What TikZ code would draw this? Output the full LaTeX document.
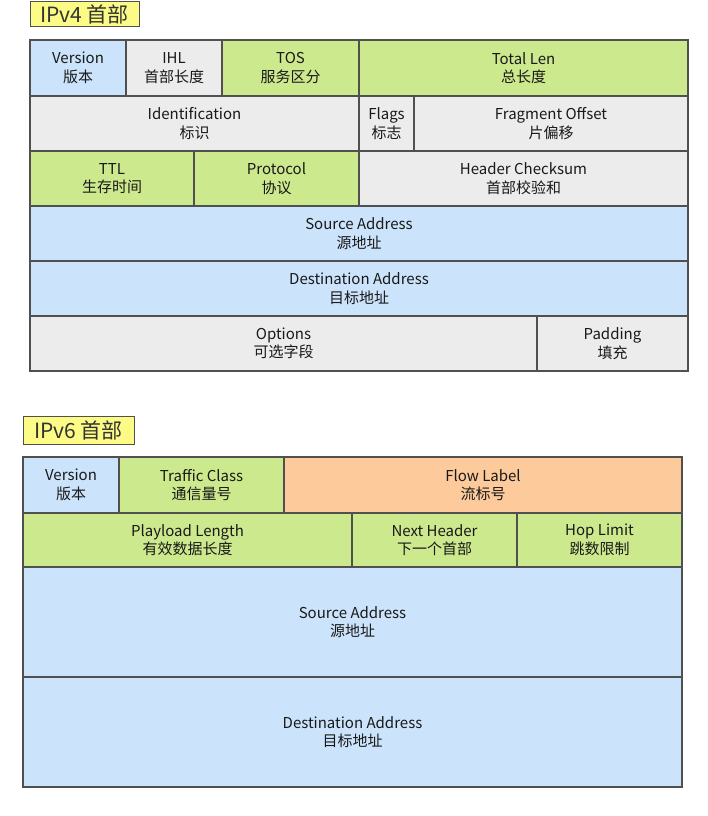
\documentclass[tikz,border=0pt]{standalone}
\usepackage{fontspec}
\setmainfont{Noto Sans CJK SC}
\usetikzlibrary{positioning}
\definecolor{fblue}{HTML}{CCE4FB}
\definecolor{fgrey}{HTML}{ECECEC}
\definecolor{fgreen}{HTML}{CDE98D}
\definecolor{forange}{HTML}{FDCB9B}
\definecolor{fyellow}{HTML}{FBFB85}
\definecolor{fline}{HTML}{505050}
\begin{document}
\begin{tikzpicture}[x=1pt, y=-1pt,
            campo/.style={rectangle, draw=fline, line width=1.1pt, anchor=north west, inner sep=0pt, outer sep=0pt, align=center, font=\fontsize{15}{18.5}\selectfont, text=black!90},
            titulo/.style={rectangle, draw=fline, line width=1pt, fill=fyellow, anchor=north west, inner sep=0pt, outer sep=0pt, font=\fontsize{21}{23}\selectfont, text=black!80}
        ]
            \useasboundingbox (0,0) rectangle (708,816);

            % Titulo IPv4
            \node[titulo, minimum width=109pt, minimum height=25pt] (t4) at (30,2) {IPv4 首部};

            % IPv4 fila 1
            \node[campo, fill=fblue, minimum width=96pt, minimum height=56pt] (ver4) at (30,40) {Version\\版本};
            \node[campo, fill=fgrey, minimum width=96pt, minimum height=56pt] (ihl) at (126,40) {IHL\\首部长度};
            \node[campo, fill=fgreen, minimum width=137pt, minimum height=56pt] (tos) at (222,40) {TOS\\服务区分};
            \node[campo, fill=fgreen, minimum width=329pt, minimum height=56pt] (totlen) at (359,40) {Total Len\\总长度};

            % IPv4 fila 2
            \node[campo, fill=fgrey, minimum width=329pt, minimum height=55pt] (ident) at (30,96) {Identification\\标识};
            \node[campo, fill=fgrey, minimum width=55pt, minimum height=55pt] (flags) at (359,96) {Flags\\标志};
            \node[campo, fill=fgrey, minimum width=274pt, minimum height=55pt] (frag) at (414,96) {Fragment Offset\\片偏移};

            % IPv4 fila 3
            \node[campo, fill=fgreen, minimum width=164pt, minimum height=55pt] (ttl) at (30,151) {TTL\\生存时间};
            \node[campo, fill=fgreen, minimum width=165pt, minimum height=55pt] (proto) at (194,151) {Protocol\\协议};
            \node[campo, fill=fgrey, minimum width=329pt, minimum height=55pt] (chk) at (359,151) {Header Checksum\\首部校验和};

            % IPv4 direcciones
            \node[campo, fill=fblue, minimum width=658pt, minimum height=55pt] (src4) at (30,206) {Source Address\\源地址};
            \node[campo, fill=fblue, minimum width=658pt, minimum height=55pt] (dst4) at (30,261) {Destination Address\\目标地址};

            % IPv4 opciones
            \node[campo, fill=fgrey, minimum width=507pt, minimum height=55pt] (opt) at (30,316) {Options\\可选字段};
            \node[campo, fill=fgrey, minimum width=151pt, minimum height=55pt] (pad) at (537,316) {Padding\\填充};

            % Titulo IPv6
            \node[titulo, minimum width=111pt, minimum height=28pt] (t6) at (23,416) {IPv6 首部};

            % IPv6 fila 1
            \node[campo, fill=fblue, minimum width=96pt, minimum height=56pt] (ver6) at (23,457) {Version\\版本};
            \node[campo, fill=fgreen, minimum width=165pt, minimum height=56pt] (tclass) at (119,457) {Traffic Class\\通信量号};
            \node[campo, fill=forange, minimum width=398pt, minimum height=56pt] (flow) at (284,457) {Flow Label\\流标号};

            % IPv6 fila 2
            \node[campo, fill=fgreen, minimum width=329pt, minimum height=54pt] (plen) at (23,513) {Playload Length\\有效数据长度};
            \node[campo, fill=fgreen, minimum width=165pt, minimum height=54pt] (nxt) at (352,513) {Next Header\\下一个首部};
            \node[campo, fill=fgreen, minimum width=165pt, minimum height=54pt] (hop) at (517,513) {Hop Limit\\跳数限制};

            % IPv6 direcciones
            \node[campo, fill=fblue, minimum width=659pt, minimum height=110pt] (src6) at (23,567) {Source Address\\源地址};
            \node[campo, fill=fblue, minimum width=659pt, minimum height=110pt] (dst6) at (23,677) {Destination Address\\目标地址};

        \end{tikzpicture}
\end{document}
